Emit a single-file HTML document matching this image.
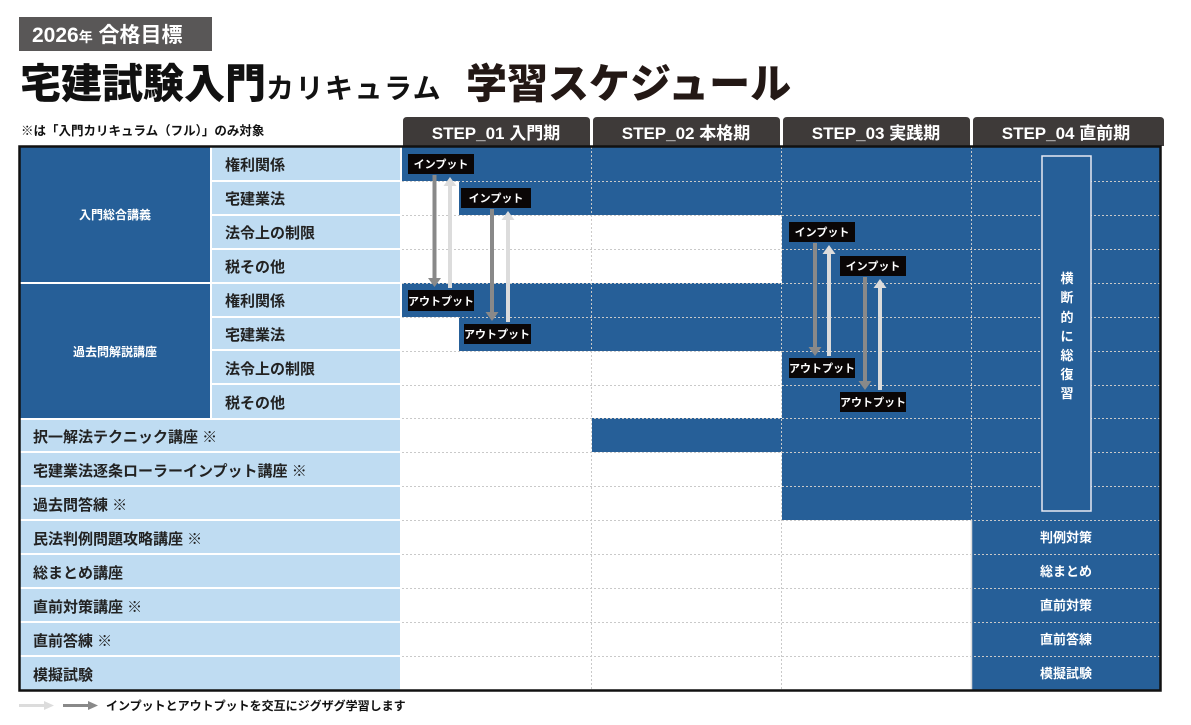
<!DOCTYPE html>
<html><head><meta charset="utf-8">
<style>
html,body{margin:0;padding:0;background:#fff;}
svg{display:block;font-family:"Liberation Sans","Noto Sans CJK JP",sans-serif;}
</style></head>
<body>
<svg width="1191" height="725" viewBox="0 0 1191 725" xmlns="http://www.w3.org/2000/svg">
<!-- header tag -->
<rect x="19" y="17" width="193" height="34" fill="#595757"/>
<text x="32" y="42" fill="#fff" font-size="21" font-weight="bold">2026<tspan font-size="14">年</tspan> 合格目標</text>
<!-- title -->
<text x="20" y="98" fill="#111" font-size="41" font-weight="900" font-family="'Noto Sans CJK JP',sans-serif">宅建試験入門<tspan font-size="28" font-weight="bold" letter-spacing="1.5">カリキュラム</tspan></text>
<text x="466" y="98" fill="#231815" font-size="41" font-weight="900" font-family="'Noto Sans CJK JP',sans-serif">学習スケジュール</text>
<text x="21" y="135" fill="#111" font-size="12.5" font-weight="bold">※は「入門カリキュラム（フル）」のみ対象</text>

<!-- header tabs -->
<g fill="#3e3a39">
<path d="M403 146V121q0-4 4-4h179q4 0 4 4v25z"/>
<path d="M593 146V121q0-4 4-4h179q4 0 4 4v25z"/>
<path d="M783 146V121q0-4 4-4h179q4 0 4 4v25z"/>
<path d="M973 146V121q0-4 4-4h183q4 0 4 4v25z"/>
</g>
<g fill="#fff" font-size="17" font-weight="bold" text-anchor="middle">
<text x="496" y="139">STEP_01 入門期</text>
<text x="686" y="139">STEP_02 本格期</text>
<text x="876" y="139">STEP_03 実践期</text>
<text x="1066" y="139">STEP_04 直前期</text>
</g>

<!-- left column -->
<rect x="20" y="147" width="190" height="135" fill="#265f98"/>
<rect x="20" y="284" width="190" height="134" fill="#265f98"/>
<g fill="#bfdcf2">
<rect x="212" y="147" width="188" height="33"/>
<rect x="212" y="182" width="188" height="32"/>
<rect x="212" y="216" width="188" height="32"/>
<rect x="212" y="250" width="188" height="32"/>
<rect x="212" y="284" width="188" height="32"/>
<rect x="212" y="318" width="188" height="31"/>
<rect x="212" y="351" width="188" height="32"/>
<rect x="212" y="385" width="188" height="33"/>
<rect x="20" y="420" width="380" height="31"/>
<rect x="20" y="453" width="380" height="32"/>
<rect x="20" y="487" width="380" height="32"/>
<rect x="20" y="521" width="380" height="32"/>
<rect x="20" y="555" width="380" height="32"/>
<rect x="20" y="589" width="380" height="32"/>
<rect x="20" y="623" width="380" height="32"/>
<rect x="20" y="657" width="380" height="33"/>
</g>
<g fill="#fff" font-size="12" font-weight="bold" text-anchor="middle">
<text x="115" y="219">入門総合講義</text>
<text x="115" y="356">過去問解説講座</text>
</g>
<g fill="#222" font-size="15" font-weight="bold">
<text x="225" y="170">権利関係</text>
<text x="225" y="204">宅建業法</text>
<text x="225" y="238">法令上の制限</text>
<text x="225" y="272">税その他</text>
<text x="225" y="306">権利関係</text>
<text x="225" y="340">宅建業法</text>
<text x="225" y="374">法令上の制限</text>
<text x="225" y="408">税その他</text>
<text x="33" y="442">択一解法テクニック講座 ※</text>
<text x="33" y="476">宅建業法逐条ローラーインプット講座 ※</text>
<text x="33" y="510">過去問答練 ※</text>
<text x="33" y="544">民法判例問題攻略講座 ※</text>
<text x="33" y="578">総まとめ講座</text>
<text x="33" y="612">直前対策講座 ※</text>
<text x="33" y="646">直前答練 ※</text>
<text x="33" y="680">模擬試験</text>
</g>

<!-- blue bars -->
<g fill="#265f98">
<rect x="402" y="147" width="759" height="34"/>
<rect x="459" y="181" width="702" height="34"/>
<rect x="782" y="215" width="379" height="68"/>
<rect x="402" y="283" width="759" height="34"/>
<rect x="459" y="317" width="702" height="34"/>
<rect x="782" y="351" width="379" height="67"/>
<rect x="592" y="418" width="569" height="34"/>
<rect x="782" y="452" width="379" height="68"/>
<rect x="972" y="520" width="189" height="170"/>
</g>

<!-- grid dotted -->
<g stroke="#c9c9c9" stroke-width="1" stroke-dasharray="2 2">
<line x1="402" y1="181.5" x2="1160" y2="181.5"/>
<line x1="402" y1="215.5" x2="1160" y2="215.5"/>
<line x1="402" y1="249.5" x2="1160" y2="249.5"/>
<line x1="402" y1="283.5" x2="1160" y2="283.5"/>
<line x1="402" y1="317.5" x2="1160" y2="317.5"/>
<line x1="402" y1="351.5" x2="1160" y2="351.5"/>
<line x1="402" y1="385.5" x2="1160" y2="385.5"/>
<line x1="402" y1="418.5" x2="1160" y2="418.5"/>
<line x1="402" y1="452.5" x2="1160" y2="452.5"/>
<line x1="402" y1="486.5" x2="1160" y2="486.5"/>
<line x1="402" y1="520.5" x2="1160" y2="520.5"/>
<line x1="402" y1="554.5" x2="1160" y2="554.5"/>
<line x1="402" y1="588.5" x2="1160" y2="588.5"/>
<line x1="402" y1="622.5" x2="1160" y2="622.5"/>
<line x1="402" y1="656.5" x2="1160" y2="656.5"/>
<line x1="591.5" y1="147" x2="591.5" y2="690"/>
<line x1="781.5" y1="147" x2="781.5" y2="690"/>
<line x1="971.5" y1="147" x2="971.5" y2="520"/>
</g>
<line x1="971.5" y1="520" x2="971.5" y2="690" stroke="#ddd" stroke-width="1.5"/>

<!-- review box -->
<rect x="1042" y="156" width="49" height="355" fill="#265f98" stroke="#e6e9f2" stroke-width="1.5"/>
<g fill="#fff" font-size="13" font-weight="bold" text-anchor="middle">
<text x="1067" y="283">横</text>
<text x="1067" y="302">断</text>
<text x="1067" y="322">的</text>
<text x="1067" y="341">に</text>
<text x="1067" y="360">総</text>
<text x="1067" y="379">復</text>
<text x="1067" y="398">習</text>
</g>
<g fill="#fff" font-size="13" font-weight="bold" text-anchor="middle">
<text x="1066" y="542">判例対策</text>
<text x="1066" y="576">総まとめ</text>
<text x="1066" y="610">直前対策</text>
<text x="1066" y="644">直前答練</text>
<text x="1066" y="678">模擬試験</text>
</g>

<!-- arrows -->
<g>
<rect x="432.5" y="175" width="4" height="104" fill="#898989"/><path d="M428 278h13l-6.5 9z" fill="#898989"/>
<rect x="448" y="185" width="4" height="103" fill="#dcdcdc"/><path d="M443.5 186h13l-6.5-9z" fill="#dcdcdc"/>
<rect x="490" y="209" width="4" height="104" fill="#898989"/><path d="M485.5 312h13l-6.5 9z" fill="#898989"/>
<rect x="506" y="219" width="4" height="103" fill="#dcdcdc"/><path d="M501.5 220h13l-6.5-9z" fill="#dcdcdc"/>
<rect x="813" y="243" width="4" height="105" fill="#898989"/><path d="M808.5 347h13l-6.5 9z" fill="#898989"/>
<rect x="827" y="253" width="4" height="103" fill="#dcdcdc"/><path d="M822.5 254h13l-6.5-9z" fill="#dcdcdc"/>
<rect x="863" y="277" width="4" height="105" fill="#898989"/><path d="M858.5 381h13l-6.5 9z" fill="#898989"/>
<rect x="878" y="287" width="4" height="103" fill="#dcdcdc"/><path d="M873.5 288h13l-6.5-9z" fill="#dcdcdc"/>
</g>
<!-- labels -->
<g fill="#0a0606">
<rect x="408" y="154" width="66" height="20"/>
<rect x="408" y="290" width="66" height="21"/>
<rect x="461" y="188" width="70" height="20"/>
<rect x="464" y="324" width="67" height="20"/>
<rect x="789" y="222" width="66" height="20"/>
<rect x="789" y="358" width="66" height="20"/>
<rect x="840" y="256" width="66" height="20"/>
<rect x="840" y="392" width="66" height="20"/>
</g>
<g fill="#fff" font-size="11" font-weight="bold" text-anchor="middle">
<text x="441" y="168">インプット</text>
<text x="441" y="305">アウトプット</text>
<text x="496" y="202">インプット</text>
<text x="497" y="338">アウトプット</text>
<text x="822" y="236">インプット</text>
<text x="822" y="372">アウトプット</text>
<text x="873" y="270">インプット</text>
<text x="873" y="406">アウトプット</text>
</g>

<!-- outer border -->
<rect x="19.5" y="146.5" width="1141" height="544" fill="none" stroke="#111" stroke-width="2.5"/>

<!-- legend -->
<rect x="19" y="704" width="26" height="3" fill="#dcdcdc"/><path d="M44 701l10 4.5-10 4.5z" fill="#dcdcdc"/>
<rect x="63" y="704" width="26" height="3" fill="#898989"/><path d="M88 701l10 4.5-10 4.5z" fill="#898989"/>
<text x="106" y="710" fill="#111" font-size="12" font-weight="bold">インプットとアウトプットを交互にジグザグ学習します</text>
</svg>
</body></html>
